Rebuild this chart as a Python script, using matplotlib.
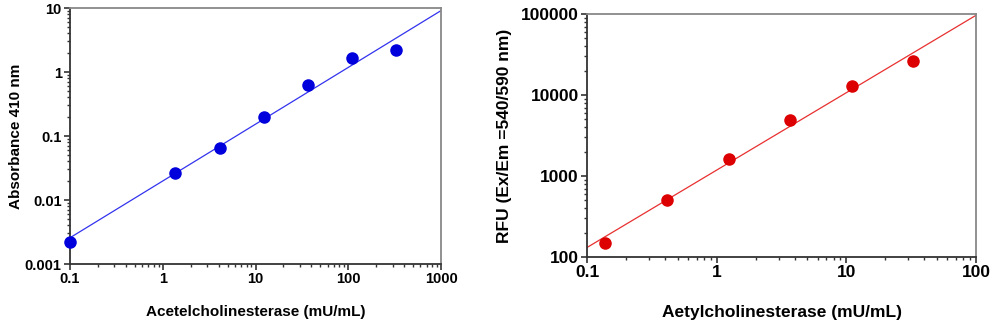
import matplotlib
matplotlib.use("Agg")
import matplotlib.pyplot as plt
from matplotlib.ticker import LogLocator, FixedLocator, FixedFormatter, NullFormatter

plt.rcParams['font.family'] = ['Liberation Sans', 'DejaVu Sans']

# Colorimetric assay (absorbance at 410 nm)
abs_conc = [0.1, 1.36, 4.12, 12.4, 37.0, 111, 330]
abs_value = [0.00218, 0.0265, 0.065, 0.20, 0.62, 1.68, 2.19]
abs_fit_x = [0.1, 1000]
abs_fit_y = [0.00257, 9.1]
abs_xticks = [0.1, 1, 10, 100, 1000]
abs_xlabels = ['0.1', '1', '10', '100', '1000']
abs_yticks = [0.001, 0.01, 0.1, 1, 10]
abs_ylabels = ['0.001', '0.01', '0.1', '1', '10']

# Fluorometric assay (RFU)
rfu_conc = [0.138, 0.414, 1.245, 3.70, 11.1, 32.9]
rfu_value = [149, 512, 1630, 4850, 12900, 26200]
rfu_fit_x = [0.1, 100]
rfu_fit_y = [131, 96400]
rfu_xticks = [0.1, 1, 10, 100]
rfu_xlabels = ['0.1', '1', '10', '100']
rfu_yticks = [100, 1000, 10000, 100000]
rfu_ylabels = ['100', '1000', '10000', '100000']

fig = plt.figure(figsize=(9.93, 3.23), dpi=100)
ax1 = fig.add_axes([70 / 993, 1 - 264 / 323, 371 / 993, 256 / 323])
ax2 = fig.add_axes([587 / 993, 1 - 257 / 323, 389 / 993, 243 / 323])


def style_axes(ax, xticks, xlabels, yticks, ylabels, size):
    ax.set_xscale('log')
    ax.set_yscale('log')
    ax.set_xlim(xticks[0], xticks[-1])
    ax.set_ylim(yticks[0], yticks[-1])
    ax.xaxis.set_major_locator(FixedLocator(xticks))
    ax.xaxis.set_major_formatter(FixedFormatter(xlabels))
    ax.yaxis.set_major_locator(FixedLocator(yticks))
    ax.yaxis.set_major_formatter(FixedFormatter(ylabels))
    ax.xaxis.set_minor_locator(LogLocator(base=10, subs=range(2, 10)))
    ax.yaxis.set_minor_locator(LogLocator(base=10, subs=range(2, 10)))
    ax.xaxis.set_minor_formatter(NullFormatter())
    ax.yaxis.set_minor_formatter(NullFormatter())
    ax.tick_params(which='major', direction='out', length=4, width=1.2,
                   color='#333333', labelsize=size, pad=2)
    ax.tick_params(which='minor', direction='out', length=2.5, width=1,
                   color='#333333')
    for lbl in ax.get_xticklabels() + ax.get_yticklabels():
        lbl.set_fontweight('bold')
    for side in ('left', 'bottom'):
        ax.spines[side].set_color('#333333')
        ax.spines[side].set_linewidth(1.3)
    for side in ('top', 'right'):
        ax.spines[side].set_color('#888888')
        ax.spines[side].set_linewidth(1.3)


def place_labels(ax, xlabel, ylabel, ylab_x, xlab_y, size):
    ax.set_xlabel(xlabel, fontsize=size, fontweight='bold', va='center')
    ax.set_ylabel(ylabel, fontsize=size, fontweight='bold', va='center')
    ax.yaxis.set_label_coords(ylab_x, 0.5)
    ax.xaxis.set_label_coords(0.5, xlab_y)


ax1.plot(abs_fit_x, abs_fit_y, color='#3333ee', lw=0.9, zorder=2)
ax1.plot(abs_conc, abs_value, 'o', color='#0000dd', ms=8, zorder=3, clip_on=False)
style_axes(ax1, abs_xticks, abs_xlabels, abs_yticks, abs_ylabels, 10.5)
place_labels(ax1, 'Acetelcholinesterase (mU/mL)', 'Absorbance 410 nm',
             (16 - 70) / 371, (264 - 312) / 256, 11)

ax2.plot(rfu_fit_x, rfu_fit_y, color='#e83030', lw=0.9, zorder=2)
ax2.plot(rfu_conc, rfu_value, 'o', color='#dd0000', ms=8, zorder=3, clip_on=False)
style_axes(ax2, rfu_xticks, rfu_xlabels, rfu_yticks, rfu_ylabels, 12.5)
place_labels(ax2, 'Aetylcholinesterase (mU/mL)', 'RFU (Ex/Em =540/590 nm)',
             (505 - 587) / 389, (257 - 312) / 243, 12.5)

fig.savefig('out.png', dpi=100)
